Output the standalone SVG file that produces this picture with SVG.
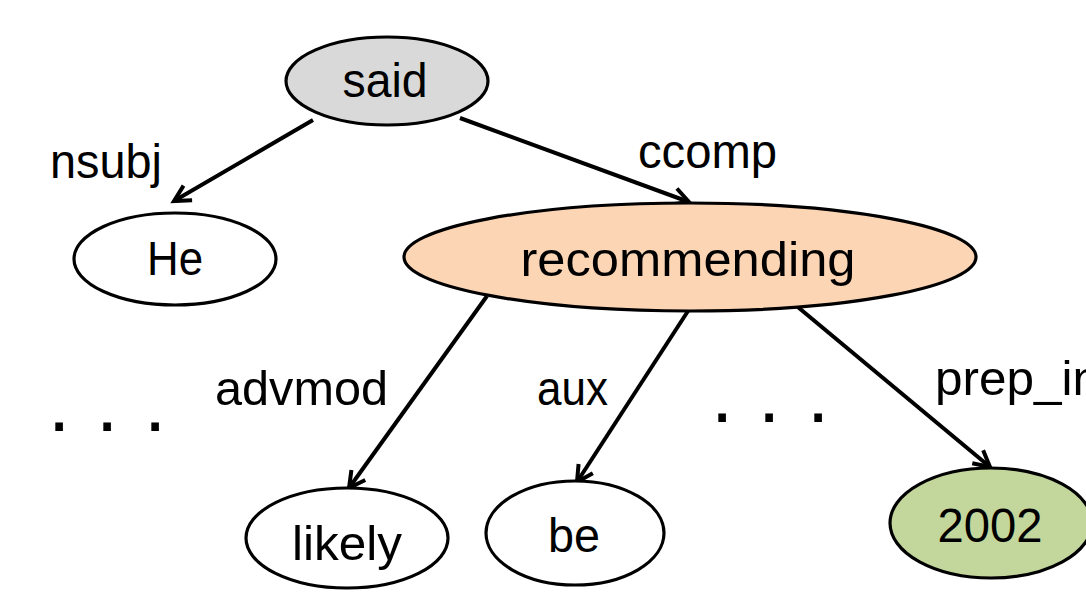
<svg xmlns="http://www.w3.org/2000/svg" width="1086" height="610" viewBox="0 0 1086 610">
<style>
.node{stroke:#000;stroke-width:3.2}
.t{font-family:"Liberation Sans",Arial,sans-serif;font-size:48px;fill:#000;text-anchor:middle}
.lbl{font-family:"Liberation Sans",Arial,sans-serif;font-size:48px;fill:#000}
.dots{font-family:"Liberation Sans",Arial,sans-serif;font-size:80px;fill:#000;text-anchor:middle}
.edge{stroke:#000;stroke-width:4;fill:none;marker-end:url(#arr)}
</style>
<defs>
<marker id="arr" markerUnits="userSpaceOnUse" markerWidth="30" markerHeight="30" viewBox="-20 -15 30 30" refX="0" refY="0" orient="auto">
<path d="M-16,-8.5 L0,0 L-16,8.5" fill="none" stroke="#000" stroke-width="4" stroke-linejoin="miter"/>
</marker>
</defs>
<rect width="1086" height="610" fill="#fff"/>
<g id="connectors">
<line class="edge" x1="313" y1="120" x2="174" y2="201"/>
<line class="edge" x1="460" y1="118" x2="689" y2="202"/>
<line class="edge" x1="487" y1="296" x2="349" y2="488"/>
<line class="edge" x1="688" y1="311" x2="577" y2="482"/>
<line class="edge" x1="793" y1="303" x2="990" y2="467"/>
</g>
<g id="labels">
<text class="lbl" x="50" y="178" textLength="112" lengthAdjust="spacingAndGlyphs">nsubj</text>
<text class="lbl" x="638" y="168" textLength="139" lengthAdjust="spacingAndGlyphs">ccomp</text>
<text class="lbl" x="215" y="405" textLength="173" lengthAdjust="spacingAndGlyphs">advmod</text>
<text class="lbl" x="537" y="405" textLength="71" lengthAdjust="spacingAndGlyphs">aux</text>
<text class="lbl" x="935" y="395" textLength="165" lengthAdjust="spacingAndGlyphs">prep_in</text>
<text class="dots" x="59 107 155" y="431">...</text>
<text class="dots" x="722 769 818" y="422">...</text>
</g>
<g id="n-said">
<ellipse class="node" cx="387" cy="81" rx="101" ry="44" fill="#d9d9d9"/>
<text class="t" x="385" y="97" textLength="85" lengthAdjust="spacingAndGlyphs">said</text>
</g>
<g id="n-he">
<ellipse class="node" cx="175" cy="259" rx="101" ry="46" fill="#fff"/>
<text class="t" x="175" y="275" textLength="56" lengthAdjust="spacingAndGlyphs">He</text>
</g>
<g id="n-recommending">
<ellipse class="node" cx="690" cy="257" rx="286" ry="54" fill="#fcd5b5"/>
<text class="t" x="688" y="276" textLength="335" lengthAdjust="spacingAndGlyphs">recommending</text>
</g>
<g id="n-likely">
<ellipse class="node" cx="347" cy="538" rx="101" ry="50" fill="#fff"/>
<text class="t" x="347" y="560" textLength="110" lengthAdjust="spacingAndGlyphs">likely</text>
</g>
<g id="n-be">
<ellipse class="node" cx="575" cy="533" rx="89" ry="52" fill="#fff"/>
<text class="t" x="574" y="552" textLength="52" lengthAdjust="spacingAndGlyphs">be</text>
</g>
<g id="n-2002">
<ellipse class="node" cx="991" cy="523" rx="101" ry="55" fill="#c3d69b"/>
<text class="t" x="990" y="542" textLength="105" lengthAdjust="spacingAndGlyphs">2002</text>
</g>
</svg>
